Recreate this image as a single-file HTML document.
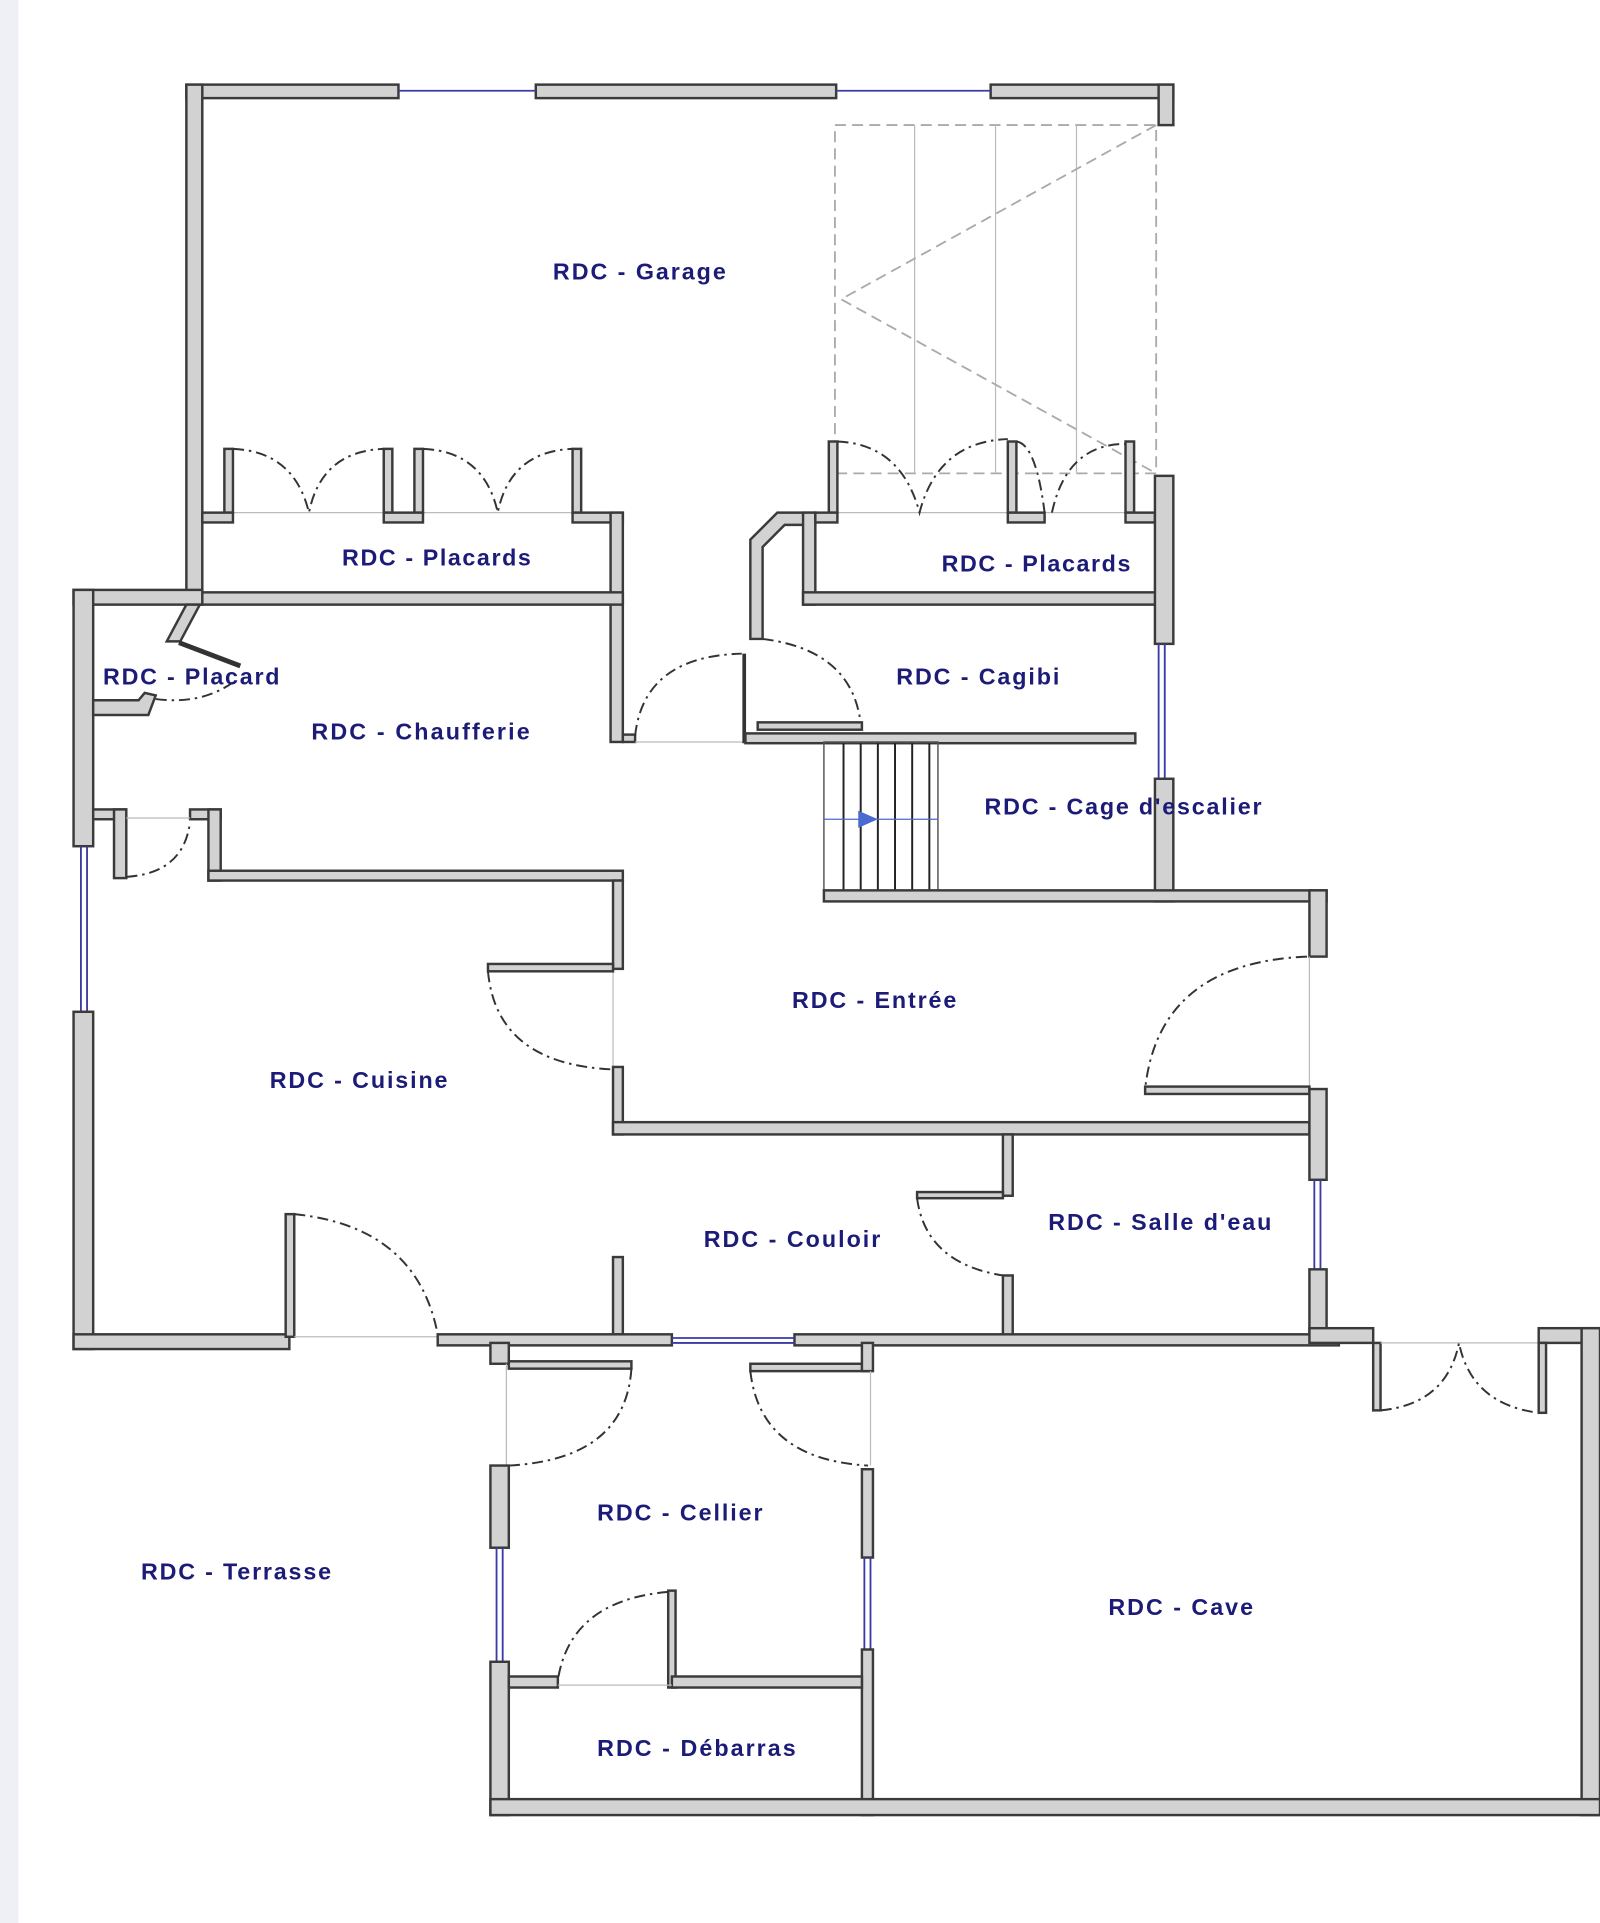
<!DOCTYPE html>
<html><head><meta charset="utf-8"><style>
html,body{margin:0;padding:0;background:#fff;}
svg{display:block;}
text{font-family:"Liberation Sans",sans-serif;font-weight:bold;font-size:19px;fill:#1c1c78;}
.w{fill:#d2d2d2;stroke:#3a3a3a;stroke-width:2;}
.d{fill:none;stroke:#333;stroke-width:1.6;stroke-dasharray:9 4 2 4;}
.t{fill:none;stroke:#bbb;stroke-width:1;}
.g{fill:none;stroke:#aaa;stroke-width:1.5;stroke-dasharray:9 5;}
.win{stroke:#3a3aa8;stroke-width:1.5;fill:none;}
.s{stroke:#222;stroke-width:1.6;}
</style></head><body>
<svg width="1600" height="1923" viewBox="0 0 1305 1568" preserveAspectRatio="none" xmlns="http://www.w3.org/2000/svg">
<rect x="0" y="0" width="15" height="1568" fill="#eef0f6"/>
<rect class="g" x="681" y="102" width="262" height="284"/>
<line class="t" x1="746" y1="102" x2="746" y2="386"/><line class="t" x1="812" y1="102" x2="812" y2="386"/><line class="t" x1="878" y1="102" x2="878" y2="386"/>
<polyline class="g" points="943,102 686,244 943,386"/>
<rect class="w" x="152" y="69" width="173" height="11"/><rect class="w" x="437" y="69" width="245" height="11"/><rect class="w" x="808" y="69" width="149" height="11"/>
<rect class="w" x="945" y="69" width="12" height="33"/>
<line class="win" x1="325" y1="74" x2="437" y2="74"/><line class="win" x1="682" y1="74" x2="808" y2="74"/>
<rect class="w" x="152" y="69" width="13" height="420"/>
<line class="t" x1="165" y1="418" x2="498" y2="418"/>
<rect class="w" x="183" y="366" width="7" height="52"/><rect class="w" x="313" y="366" width="7" height="52"/><rect class="w" x="338" y="366" width="7" height="52"/><rect class="w" x="467" y="366" width="7" height="52"/>
<rect class="w" x="165" y="418" width="25" height="8"/><rect class="w" x="313" y="418" width="32" height="8"/><rect class="w" x="467" y="418" width="41" height="8"/>
<path class="d" d="M190,366 Q240,368 252,418 Q262,368 313,366"/><path class="d" d="M345,366 Q395,368 406,418 Q416,368 467,366"/>
<rect class="w" x="498" y="418" width="10" height="187"/>
<rect class="w" x="152" y="483" width="356" height="10"/>
<rect class="w" x="60" y="481" width="105" height="12"/>
<rect class="w" x="60" y="481" width="16" height="209"/>
<polygon class="w" points="152,493 163,493 147,523 136,523"/>
<line x1="146" y1="524" x2="196" y2="543" stroke="#333" stroke-width="4"/>
<polygon class="w" points="76,571 113,571 118,565 127,567 121,583 76,583"/>
<path class="d" d="M127,570 Q165,575 192,555"/>
<rect class="w" x="76" y="660" width="27" height="8"/><rect class="w" x="93" y="660" width="10" height="56"/>
<rect class="w" x="155" y="660" width="25" height="8"/><rect class="w" x="170" y="660" width="10" height="58"/>
<rect class="w" x="170" y="710" width="338" height="8"/>
<line class="t" x1="103" y1="667" x2="155" y2="667"/>
<path class="d" d="M103,715 Q150,712 155,670"/>
<line class="win" x1="66" y1="690" x2="66" y2="825"/><line class="win" x1="71" y1="690" x2="71" y2="825"/>
<rect class="w" x="60" y="825" width="16" height="275"/>
<rect class="w" x="60" y="1088" width="176" height="12"/>
<rect class="w" x="233" y="990" width="7" height="100"/>
<line class="t" x1="240" y1="1090" x2="357" y2="1090"/>
<path class="d" d="M240,990 Q340,1000 357,1088"/>
<rect class="w" x="500" y="718" width="8" height="72"/>
<line class="t" x1="500" y1="790" x2="500" y2="870"/>
<rect class="w" x="398" y="786" width="102" height="6"/>
<path class="d" d="M398,792 Q405,868 500,872"/>
<rect class="w" x="500" y="870" width="8" height="55"/>
<rect class="w" x="500" y="915" width="568" height="10"/>
<rect class="w" x="508" y="599" width="10" height="6"/>
<line class="t" x1="518" y1="605" x2="608" y2="605"/>
<path class="d" d="M518,600 Q525,535 605,533"/>
<line x1="607" y1="533" x2="607" y2="606" stroke="#333" stroke-width="3"/>
<polygon class="w" points="612,440 634,418 665,418 665,428 640,428 622,446 622,521 612,521"/>
<path class="d" d="M622,521 Q695,530 702,590"/>
<rect class="w" x="618" y="589" width="85" height="6"/>
<rect class="w" x="608" y="598" width="318" height="8"/>
<rect class="w" x="655" y="418" width="10" height="75"/>
<rect class="w" x="655" y="483" width="290" height="10"/>
<line class="t" x1="665" y1="418" x2="942" y2="418"/>
<rect class="w" x="676" y="360" width="7" height="58"/><rect class="w" x="822" y="360" width="7" height="58"/><rect class="w" x="918" y="360" width="7" height="58"/>
<rect class="w" x="822" y="418" width="30" height="8"/><rect class="w" x="918" y="418" width="24" height="8"/><rect class="w" x="665" y="418" width="18" height="8"/>
<path class="d" d="M683,360 Q735,362 750,418 Q765,360 822,358"/><path class="d" d="M829,360 Q845,362 852,418"/><path class="d" d="M858,418 Q870,362 918,362"/>
<rect class="w" x="942" y="388" width="15" height="137"/>
<line class="win" x1="945" y1="525" x2="945" y2="635"/><line class="win" x1="950" y1="525" x2="950" y2="635"/>
<rect class="w" x="942" y="635" width="15" height="100"/>
<rect x="672" y="605" width="93" height="125" fill="none" stroke="#555" stroke-width="1.2"/>
<g class="s"><line x1="688" y1="606" x2="688" y2="730"/><line x1="702" y1="606" x2="702" y2="730"/><line x1="716" y1="606" x2="716" y2="730"/><line x1="730" y1="606" x2="730" y2="730"/><line x1="744" y1="606" x2="744" y2="730"/><line x1="758" y1="606" x2="758" y2="730"/></g>
<line x1="672" y1="668" x2="765" y2="668" stroke="#4a6ad0" stroke-width="1"/>
<polygon points="700,661 716,668 700,675" fill="#4a6ad0"/>
<rect class="w" x="672" y="726" width="410" height="9"/>
<rect class="w" x="1068" y="726" width="14" height="54"/>
<line class="t" x1="1068" y1="780" x2="1068" y2="888"/>
<path class="d" d="M1066,780 Q945,785 934,888"/>
<rect class="w" x="934" y="886" width="134" height="6"/>
<rect class="w" x="1068" y="888" width="14" height="74"/>
<line class="win" x1="1072" y1="962" x2="1072" y2="1035"/><line class="win" x1="1077" y1="962" x2="1077" y2="1035"/>
<rect class="w" x="1068" y="1035" width="14" height="60"/>
<rect class="w" x="818" y="925" width="8" height="50"/>
<rect class="w" x="748" y="972" width="70" height="5"/>
<path class="d" d="M748,977 Q755,1030 818,1040"/>
<rect class="w" x="818" y="1040" width="8" height="50"/>
<rect class="w" x="500" y="1025" width="8" height="63"/>
<rect class="w" x="357" y="1088" width="191" height="9"/><rect class="w" x="648" y="1088" width="444" height="9"/>
<line class="win" x1="548" y1="1091" x2="648" y2="1091"/><line class="win" x1="548" y1="1095" x2="648" y2="1095"/>
<rect class="w" x="1068" y="1083" width="52" height="12"/>
<rect class="w" x="1120" y="1095" width="6" height="55"/>
<line class="t" x1="1126" y1="1095" x2="1255" y2="1095"/>
<path class="d" d="M1126,1150 Q1180,1145 1190,1095 Q1200,1145 1255,1152"/>
<rect class="w" x="1255" y="1083" width="50" height="12"/><rect class="w" x="1255" y="1095" width="6" height="57"/>
<rect class="w" x="1290" y="1083" width="15" height="397"/>
<rect class="w" x="400" y="1095" width="15" height="17"/>
<rect class="w" x="415" y="1110" width="100" height="6"/>
<path class="d" d="M515,1116 Q510,1190 415,1195"/>
<line class="t" x1="413" y1="1112" x2="413" y2="1195"/>
<rect class="w" x="400" y="1195" width="15" height="67"/>
<line class="win" x1="405" y1="1262" x2="405" y2="1355"/><line class="win" x1="410" y1="1262" x2="410" y2="1355"/>
<rect class="w" x="400" y="1355" width="15" height="125"/>
<rect class="w" x="612" y="1112" width="98" height="6"/>
<path class="d" d="M612,1118 Q620,1190 708,1195"/>
<rect class="w" x="703" y="1095" width="9" height="23"/>
<line class="t" x1="710" y1="1118" x2="710" y2="1195"/>
<rect class="w" x="703" y="1198" width="9" height="72"/>
<line class="win" x1="705" y1="1270" x2="705" y2="1345"/><line class="win" x1="710" y1="1270" x2="710" y2="1345"/>
<rect class="w" x="703" y="1345" width="9" height="135"/>
<rect class="w" x="415" y="1367" width="40" height="9"/>
<rect class="w" x="545" y="1297" width="6" height="79"/>
<rect class="w" x="548" y="1367" width="155" height="9"/>
<path class="d" d="M545,1298 Q465,1305 455,1370"/>
<line class="t" x1="455" y1="1374" x2="548" y2="1374"/>
<rect class="w" x="400" y="1467" width="905" height="13"/>
<text x="451" y="228" textLength="141" lengthAdjust="spacing">RDC - Garage</text>
<text x="279" y="461" textLength="154" lengthAdjust="spacing">RDC - Placards</text>
<text x="768" y="466" textLength="154" lengthAdjust="spacing">RDC - Placards</text>
<text x="84" y="558" textLength="144" lengthAdjust="spacing">RDC - Placard</text>
<text x="254" y="603" textLength="178" lengthAdjust="spacing">RDC - Chaufferie</text>
<text x="731" y="558" textLength="133" lengthAdjust="spacing">RDC - Cagibi</text>
<text x="803" y="664" textLength="226" lengthAdjust="spacing">RDC - Cage d'escalier</text>
<text x="646" y="822" textLength="134" lengthAdjust="spacing">RDC - Entrée</text>
<text x="220" y="887" textLength="145" lengthAdjust="spacing">RDC - Cuisine</text>
<text x="574" y="1017" textLength="144" lengthAdjust="spacing">RDC - Couloir</text>
<text x="855" y="1003" textLength="182" lengthAdjust="spacing">RDC - Salle d'eau</text>
<text x="487" y="1240" textLength="135" lengthAdjust="spacing">RDC - Cellier</text>
<text x="115" y="1288" textLength="155" lengthAdjust="spacing">RDC - Terrasse</text>
<text x="904" y="1317" textLength="118" lengthAdjust="spacing">RDC - Cave</text>
<text x="487" y="1432" textLength="162" lengthAdjust="spacing">RDC - Débarras</text>
</svg>
</body></html>
